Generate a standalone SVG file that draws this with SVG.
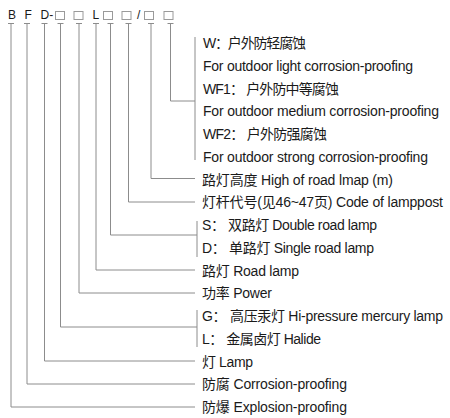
<svg xmlns="http://www.w3.org/2000/svg" width="450" height="418" viewBox="0 0 450 418">
<style>
.ln{fill:none;stroke:#8c8c8c;stroke-width:1}
.bx{fill:none;stroke:#9a9a9a;stroke-width:1}
.code{font-family:"Liberation Sans",Arial,sans-serif;font-size:12px;fill:#1a1a1a}
.lb{font-family:"Liberation Sans","Noto Sans CJK SC",sans-serif;font-size:14px;fill:#1a1a1a}
</style>
<rect width="450" height="418" fill="#fff"/>
<g id="code">
<text class="code" x="8" y="19.3">B</text>
<text class="code" x="24.5" y="19.3">F</text>
<text class="code" x="40.5" y="19.3">D-</text>
<rect class="bx" x="55.5" y="11.5" width="9" height="8"/>
<rect class="bx" x="74" y="11.5" width="9" height="8"/>
<text class="code" x="92.5" y="19.3">L</text>
<rect class="bx" x="103.5" y="11.5" width="9" height="8"/>
<rect class="bx" x="122" y="11.5" width="9" height="8"/>
<text class="code" x="137" y="19.3">/</text>
<rect class="bx" x="144.5" y="11.5" width="9" height="8"/>
<rect class="bx" x="164" y="11.5" width="9" height="8"/>
</g>
<g id="connectors" class="ln">
<path d="M8,23.5H14M24,23.5H30M41.5,23.5H47.5M57.5,23.5H63.5M76,23.5H82M93,23.5H99M107.5,23.5H113.5M125.5,23.5H131.5M148,23.5H154M167.5,23.5H173.5"/>
<path d="M170.5,23.5V101H195"/>
<path d="M195,37V160"/>
<path d="M151,23.5V178.5H195"/>
<path d="M128.5,23.5V202H195"/>
<path d="M110.5,23.5V235H197"/>
<path d="M197,221V257"/>
<path d="M96,23.5V270H195"/>
<path d="M79,23.5V293H195"/>
<path d="M60.5,23.5V327H197"/>
<path d="M197,310V347"/>
<path d="M44.5,23.5V361H195"/>
<path d="M27,23.5V384H195"/>
<path d="M11,23.5V407H195"/>
</g>
<g id="n-w">
<text class="lb" x="203" y="48" textLength="103">W：户外防轻腐蚀</text>
<text class="lb" x="203" y="70.8" textLength="210">For outdoor light corrosion-proofing</text>
<text class="lb" x="203" y="93.5" textLength="136">WF1： 户外防中等腐蚀</text>
<text class="lb" x="203" y="116.3" textLength="236">For outdoor medium corrosion-proofing</text>
<text class="lb" x="203" y="139" textLength="124">WF2： 户外防强腐蚀</text>
<text class="lb" x="203" y="161.8" textLength="225">For outdoor strong corrosion-proofing</text>
</g>
<g id="n-height"><text class="lb" x="202" y="184.5" textLength="191">路灯高度 High of road lmap (m)</text></g>
<g id="n-post"><text class="lb" x="202" y="207.3" textLength="241">灯杆代号(见46~47页) Code of lamppost</text></g>
<g id="n-sd">
<text class="lb" x="202" y="230" textLength="175">S： 双路灯 Double road lamp</text>
<text class="lb" x="202" y="252.8" textLength="172">D： 单路灯 Single road lamp</text>
</g>
<g id="n-road"><text class="lb" x="202" y="275.5" textLength="97">路灯 Road lamp</text></g>
<g id="n-power"><text class="lb" x="202" y="298.3" textLength="70">功率 Power</text></g>
<g id="n-gl">
<text class="lb" x="202" y="321" textLength="241">G： 高压汞灯 Hi-pressure mercury lamp</text>
<text class="lb" x="202" y="343.8" textLength="119">L： 金属卤灯 Halide</text>
</g>
<g id="n-lamp"><text class="lb" x="202" y="366.5" textLength="51">灯 Lamp</text></g>
<g id="n-corr"><text class="lb" x="202" y="389.3" textLength="145">防腐 Corrosion-proofing</text></g>
<g id="n-expl"><text class="lb" x="202" y="412" textLength="145">防爆 Explosion-proofing</text></g>
</svg>
